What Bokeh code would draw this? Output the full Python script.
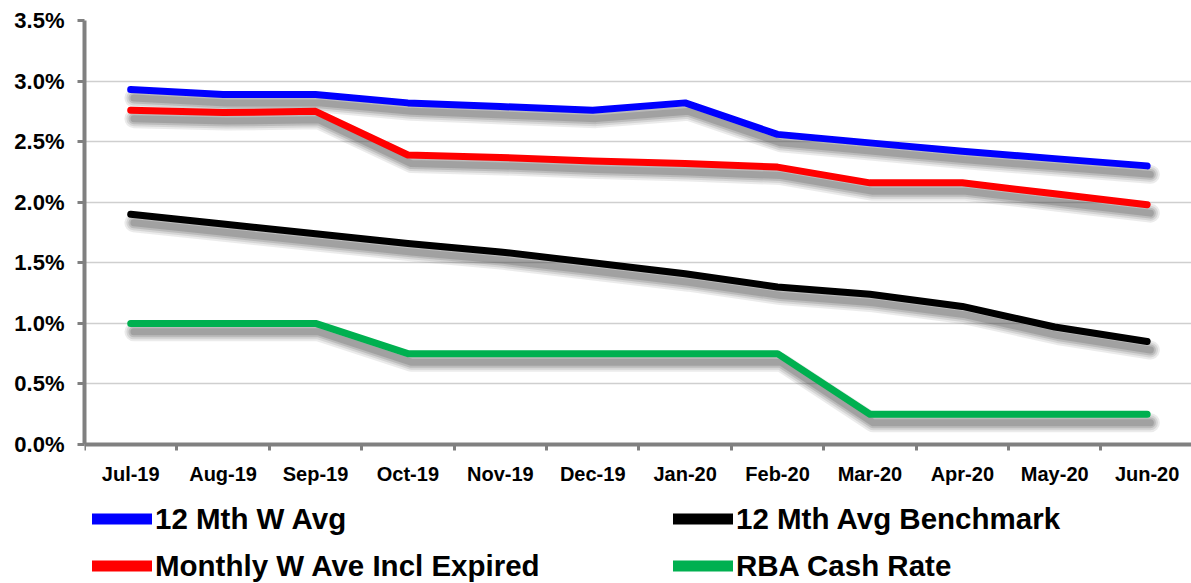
from bokeh.plotting import figure
from bokeh.models import (Range1d, FixedTicker, PrintfTickFormatter, Legend,
                          LegendItem, ColumnDataSource, LinearAxis)
from bokeh.embed import file_html
from bokeh.resources import INLINE

# Monthly rates, % p.a.
months = ["Jul-19", "Aug-19", "Sep-19", "Oct-19", "Nov-19", "Dec-19",
          "Jan-20", "Feb-20", "Mar-20", "Apr-20", "May-20", "Jun-20"]
w_avg_12m = [2.93, 2.89, 2.89, 2.82, 2.79, 2.76, 2.82, 2.56, 2.49, 2.42, 2.36, 2.30]
monthly_w_ave = [2.76, 2.74, 2.75, 2.39, 2.37, 2.34, 2.32, 2.29, 2.16, 2.16, 2.07, 1.98]
benchmark_12m = [1.90, 1.82, 1.74, 1.66, 1.59, 1.50, 1.41, 1.30, 1.24, 1.14, 0.97, 0.85]
rba_cash = [1.00, 1.00, 1.00, 0.75, 0.75, 0.75, 0.75, 0.75, 0.25, 0.25, 0.25, 0.25]
y_ticks = [0.0, 0.5, 1.0, 1.5, 2.0, 2.5, 3.0, 3.5]

# legend order: first column top-to-bottom, then second column
series = [
    ("12 Mth W Avg", w_avg_12m, "#0000FF"),
    ("Monthly W Ave Incl Expired", monthly_w_ave, "#FF0000"),
    ("12 Mth Avg Benchmark", benchmark_12m, "#000000"),
    ("RBA Cash Rate", rba_cash, "#00B050"),
]

FONT = "Liberation Sans"
AXIS_GREY = "#808080"
NAN = float("nan")

x_pos = [i + 0.5 for i in range(len(months))]

# the frame runs to the bottom of the canvas; the space under 0% holds the
# month labels and the legend
p = figure(width=1191, height=583, output_backend="svg", toolbar_location=None,
           x_range=Range1d(0, 11.98), y_range=Range1d(-1.147, 3.5),
           x_axis_location=None, y_axis_location=None,
           min_border_left=84, min_border_right=0, min_border_top=20,
           min_border_bottom=0)
p.outline_line_color = None
p.background_fill_color = "white"

# soft drop shadow under each line (offset down/right, layered for blur)
dx, dy = 0.035, -0.07
for name, vals, color in series:
    src = ColumnDataSource(dict(x=[v + dx for v in x_pos], y=[v + dy for v in vals]))
    for w, a in [(19, 0.10), (15, 0.12), (11, 0.16), (7, 0.20)]:
        p.line("x", "y", source=src, line_color="#3a3a3a", line_alpha=a,
               line_width=w, line_join="round", line_cap="round")

# the data lines
for name, vals, color in series:
    p.line(x_pos, vals, line_color=color, line_width=7,
           line_join="round", line_cap="round")

# legend swatches (thicker than the plotted lines); a single NaN point so
# nothing is drawn in the plot itself
items = []
for name, vals, color in series:
    r = p.line([NAN], [NAN], line_color=color, line_width=11, line_cap="round")
    items.append(LegendItem(label=name, renderers=[r]))

legend = Legend(items=items, location=(8, -6), orientation="vertical", nrows=2,
                glyph_width=60, glyph_height=47, label_height=47, label_width=518,
                label_standoff=3, spacing=0, padding=0, margin=0,
                label_text_font=FONT, label_text_font_style="bold",
                label_text_font_size="29.5px", label_text_color="black",
                background_fill_alpha=0, border_line_color=None)
p.add_layout(legend, "center")

# x axis sits on the 0% line: month labels centred, tick marks on boundaries
xa = LinearAxis(fixed_location=0)
xa.ticker = FixedTicker(ticks=x_pos, minor_ticks=list(range(len(months) + 1)))
xa.major_label_overrides = {x: m for x, m in zip(x_pos, months)}
xa.major_tick_out = 0
xa.major_tick_in = 0
xa.minor_tick_out = 6
xa.minor_tick_in = 0
xa.minor_tick_line_color = AXIS_GREY
xa.minor_tick_line_width = 3
xa.axis_line_color = AXIS_GREY
xa.axis_line_width = 4
xa.major_label_text_font = FONT
xa.major_label_text_font_style = "bold"
xa.major_label_text_font_size = "20px"
xa.major_label_text_color = "black"
xa.major_label_standoff = 12
p.add_layout(xa, "below")

ya = LinearAxis(bounds=(0, 3.5))
ya.ticker = FixedTicker(ticks=y_ticks, minor_ticks=[])
ya.formatter = PrintfTickFormatter(format="%.1f%%")
ya.major_tick_out = 7
ya.major_tick_in = 0
ya.major_tick_line_color = AXIS_GREY
ya.major_tick_line_width = 3
ya.minor_tick_line_color = None
ya.axis_line_color = AXIS_GREY
ya.axis_line_width = 4
ya.major_label_text_font = FONT
ya.major_label_text_font_style = "bold"
ya.major_label_text_font_size = "22px"
ya.major_label_text_color = "black"
ya.major_label_standoff = 13
p.add_layout(ya, "left")

p.xgrid.grid_line_color = None
p.ygrid.ticker = FixedTicker(ticks=y_ticks)
p.ygrid.grid_line_color = "#cfcfcf"
p.ygrid.grid_line_width = 1.5

open("out.html", "w").write(file_html(p, INLINE))
